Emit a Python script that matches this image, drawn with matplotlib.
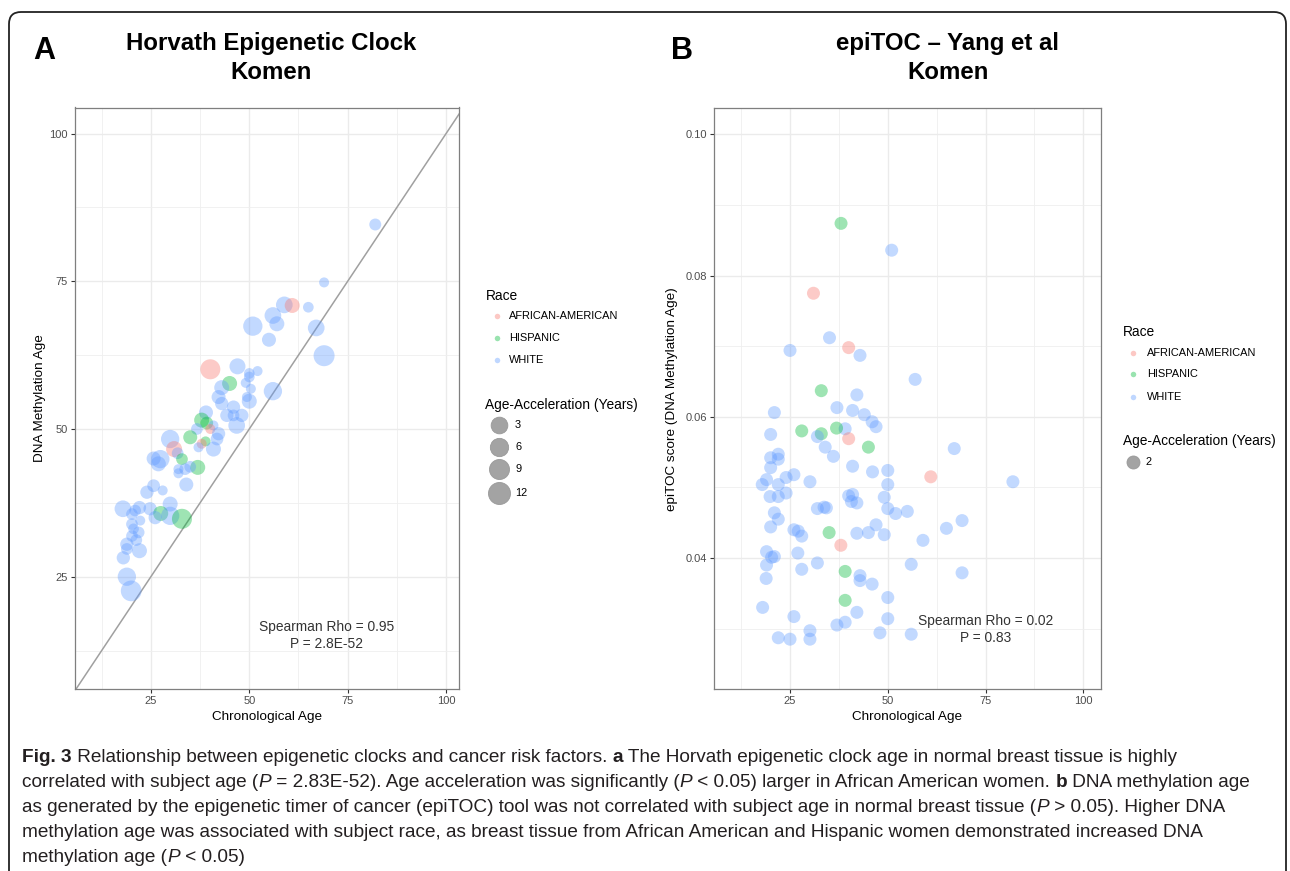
import numpy as np
import matplotlib
matplotlib.use('Agg')
import matplotlib.pyplot as plt
from matplotlib import font_manager
from matplotlib.patches import FancyBboxPatch
from matplotlib.transforms import IdentityTransform
from matplotlib.lines import Line2D

# ---------------- data ----------------
RACES = ['AFRICAN-AMERICAN', 'HISPANIC', 'WHITE']
RACE_COLORS = {'AFRICAN-AMERICAN': '#F8766D', 'HISPANIC': '#00BA38', 'WHITE': '#619CFF'}
CODE = {'AA': 'AFRICAN-AMERICAN', 'H': 'HISPANIC', 'W': 'WHITE'}

# Panel A: Horvath clock
a_age = [69.0, 58.9, 60.9, 65.0, 56.0, 57.0, 50.9, 67.0, 55.0, 69.0,
         40.1, 47.0, 52.1, 50.0, 50.0, 45.0, 49.1, 43.0, 50.4, 56.0,
         42.2, 49.4, 50.0, 43.0, 46.0, 48.1, 39.0, 44.3, 82.0,
         46.0, 46.8, 37.9, 39.2, 40.9, 36.7, 40.1, 42.2, 41.8, 35.0,
         29.9, 38.9, 37.9, 37.1, 40.9, 30.9, 31.8, 32.9, 25.7, 27.4,
         26.9, 36.9, 35.0, 33.7, 32.0, 32.0, 34.0, 25.7, 24.0, 28.0,
         17.9, 22.1, 24.8, 29.9, 27.5, 29.9, 32.9, 26.1, 20.2, 20.2,
         22.3, 21.9, 20.2, 18.9, 22.1, 18.9, 18.0, 18.9, 20.0,
         21.0, 20.6, 21.3]
a_dnam = [74.8, 71.0, 70.9, 70.6, 69.2, 67.8, 67.4, 67.1, 65.1, 62.4,
          60.1, 60.6, 59.8, 59.4, 58.8, 57.7, 57.8, 57.0, 56.8, 56.4,
          55.4, 55.4, 54.7, 54.3, 53.7, 52.3, 52.8, 52.3, 84.6,
          52.3, 50.6, 51.5, 51.0, 50.6, 50.0, 50.0, 49.2, 48.3, 48.6,
          48.3, 47.9, 47.5, 46.9, 46.6, 46.6, 45.9, 44.9, 45.0, 44.9,
          44.1, 43.5, 43.6, 43.2, 43.2, 42.5, 40.6, 40.4, 39.3, 39.6,
          36.5, 36.7, 36.5, 37.3, 35.7, 35.3, 34.8, 35.0, 35.6, 33.9,
          34.5, 32.5, 31.9, 30.5, 29.4, 29.7, 28.2, 25.0, 22.6,
          36.2, 33.1, 31.2]
a_race = ['W', 'W', 'AA', 'W', 'W', 'W', 'W', 'W', 'W', 'W',
          'AA', 'W', 'W', 'W', 'W', 'H', 'W', 'W', 'W', 'W',
          'W', 'W', 'W', 'W', 'W', 'W', 'W', 'W', 'W',
          'W', 'W', 'H', 'H', 'W', 'W', 'AA', 'W', 'W', 'H',
          'W', 'H', 'AA', 'W', 'W', 'AA', 'W', 'H', 'W', 'W',
          'W', 'H', 'W', 'W', 'W', 'W', 'W', 'W', 'W', 'W',
          'W', 'W', 'W', 'W', 'H', 'W', 'H', 'W', 'W', 'W',
          'W', 'W', 'W', 'W', 'W', 'W', 'W', 'W', 'W',
          'W', 'W', 'W']
a_accel = [0.0, 6.3, 4.4, 0.5, 6.3, 4.4, 9.6, 6.3, 3.4, 12.0,
           10.6, 5.5, 0.0, 0.5, 0.5, 4.4, 0.0, 4.4, 0.0, 8.3,
           3.4, 0.0, 4.4, 2.7, 2.7, 2.7, 3.4, 2.7, 1.5,
           1.3, 6.3, 4.4, 2.2, 0.0, 1.3, 0.0, 2.7, 2.2, 3.4,
           8.3, 0.0, 0.0, 0.0, 4.4, 5.5, 1.3, 1.3, 3.4, 8.3,
           4.4, 4.4, 1.3, 1.3, 0.0, 0.0, 3.4, 2.2, 2.7, 0.0,
           6.3, 2.7, 2.7, 4.4, 4.4, 8.3, 10.6, 2.7, 1.3, 1.3,
           0.0, 1.3, 1.3, 2.7, 4.4, 1.3, 2.7, 8.3, 11.6,
           1.3, 0.5, 1.3]
a_size_breaks = [3, 6, 9, 12]
a_legend_diam_px = [16.7, 18.3, 20.0, 22.0]

# Panel B: epiTOC
b_age = [38.05, 51.0, 31.0, 35.1, 25.0, 40.0, 42.9, 57.0, 33.0, 42.1,
         21.0, 37.0, 41.0, 44.0, 46.0, 47.0, 39.1, 28.0, 33.0, 32.0,
         36.9, 20.05, 40.0, 45.05, 34.0, 36.1, 67.0, 22.0, 20.05, 22.0,
         20.05, 41.0, 46.1, 50.0, 26.0, 24.0, 19.0, 17.9, 22.0, 30.1,
         61.0, 82.0, 50.0, 19.9, 22.0, 24.0, 40.0, 41.0, 40.7, 42.1,
         49.1, 32.0, 33.7, 34.3, 50.0, 52.0, 55.0, 21.0, 22.0, 20.05,
         26.0, 27.1, 28.0, 35.0, 42.1, 45.05, 47.0, 49.1, 65.0, 69.0,
         59.0, 38.0, 19.0, 20.3, 21.0, 27.0, 19.0, 32.0, 28.0, 18.9,
         39.1, 42.9, 42.9, 46.0, 56.0, 69.0, 39.1, 50.0, 18.0, 42.1,
         26.0, 50.0, 39.1, 37.0, 30.1, 48.0, 56.0, 22.0, 25.0, 30.1]
b_score = [0.0874, 0.0836, 0.0775, 0.0712, 0.0694, 0.0698, 0.0687, 0.0653, 0.0637, 0.0631,
           0.0606, 0.0613, 0.0609, 0.0603, 0.0593, 0.0586, 0.0583, 0.0580, 0.0576, 0.0572,
           0.0584, 0.0575, 0.0569, 0.0557, 0.0557, 0.0544, 0.0555, 0.0547, 0.0542, 0.0540,
           0.0528, 0.0530, 0.0522, 0.0524, 0.0518, 0.0514, 0.0511, 0.0504, 0.0504, 0.0508,
           0.0515, 0.0508, 0.0504, 0.0487, 0.0487, 0.0492, 0.0488, 0.0490, 0.0480, 0.0478,
           0.0486, 0.0470, 0.0472, 0.0471, 0.0470, 0.0463, 0.0466, 0.0464, 0.0455, 0.0444,
           0.0440, 0.0438, 0.0431, 0.0436, 0.0435, 0.0436, 0.0447, 0.0433, 0.0442, 0.0453,
           0.0425, 0.0418, 0.0409, 0.0401, 0.0402, 0.0407, 0.0390, 0.0393, 0.0384, 0.0371,
           0.0381, 0.0375, 0.0368, 0.0363, 0.0391, 0.0379, 0.0340, 0.0344, 0.0330, 0.0323,
           0.0317, 0.0314, 0.0309, 0.0305, 0.0297, 0.0294, 0.0292, 0.0287, 0.0285, 0.0285]
b_race = ['H', 'W', 'AA', 'W', 'W', 'AA', 'W', 'W', 'H', 'W',
          'W', 'W', 'W', 'W', 'W', 'W', 'W', 'H', 'H', 'W',
          'H', 'W', 'AA', 'H', 'W', 'W', 'W', 'W', 'W', 'W',
          'W', 'W', 'W', 'W', 'W', 'W', 'W', 'W', 'W', 'W',
          'AA', 'W', 'W', 'W', 'W', 'W', 'W', 'W', 'W', 'W',
          'W', 'W', 'W', 'W', 'W', 'W', 'W', 'W', 'W', 'W',
          'W', 'W', 'W', 'H', 'W', 'W', 'W', 'W', 'W', 'W',
          'W', 'AA', 'W', 'W', 'W', 'W', 'W', 'W', 'W', 'W',
          'H', 'W', 'W', 'W', 'W', 'W', 'H', 'W', 'W', 'W',
          'W', 'W', 'W', 'W', 'W', 'W', 'W', 'W', 'W', 'W']
b_size_breaks = [2]

x_ticks = [25, 50, 75, 100]
x_minor = [12.5, 37.5, 62.5, 87.5]
a_yticks = [25, 50, 75, 100]
a_yminor = [12.5, 37.5, 62.5, 87.5]
b_yticks = [0.04, 0.06, 0.08, 0.10]
b_ylabels = ['0.04', '0.06', '0.08', '0.10']
b_yminor = [0.03, 0.05, 0.07, 0.09]

# ---------------- fonts ----------------
names = {f.name for f in font_manager.fontManager.ttflist}
SANS = 'Liberation Sans' if 'Liberation Sans' in names else 'DejaVu Sans'
NARROW = 'Liberation Sans Narrow' if 'Liberation Sans Narrow' in names else SANS
plt.rcParams['font.family'] = [SANS, 'DejaVu Sans']

W, H = 1290, 871
fig = plt.figure(figsize=(W / 100, H / 100), dpi=100)
fig.patch.set_facecolor('white')
R = fig.canvas.get_renderer()


def fx(px):
    return px / W


def fy(py):
    return 1 - py / H


def pt(dpx):
    return dpx * 72.0 / 100.0


def diam_px(a):
    return np.sqrt(100.0 + 28.4 * np.asarray(a, dtype=float))


def text_width(txt, **kw):
    t1 = fig.text(0, 0, txt + '|', **kw)
    t2 = fig.text(0, 0, '|', **kw)
    w = t1.get_window_extent(R).width - t2.get_window_extent(R).width
    t1.remove()
    t2.remove()
    return w


# ---------------- frame ----------------
frame = FancyBboxPatch((9, -40), 1277, H - 12 + 40, boxstyle='round,pad=0,rounding_size=12',
                       transform=IdentityTransform(), facecolor='none', edgecolor='#222222',
                       linewidth=1.3, zorder=0)
fig.add_artist(frame)


def style_axes(ax):
    for sp in ax.spines.values():
        sp.set_color('#7F7F7F')
        sp.set_linewidth(0.9)
    ax.set_xticks(x_ticks)
    ax.set_xticks(x_minor, minor=True)
    ax.grid(which='major', color='#EBEBEB', linewidth=1.0)
    ax.grid(which='minor', color='#EFEFEF', linewidth=0.6)
    ax.set_axisbelow(True)
    ax.tick_params(which='major', length=3, width=0.8, color='#333333',
                   labelsize=8, labelcolor='#4D4D4D', pad=2)
    ax.tick_params(which='minor', length=0)


# ---------------- Panel A ----------------
axA = fig.add_axes([fx(74.5), fy(689), fx(459.5) - fx(74.5), fy(107.5) - fy(689)])
style_axes(axA)
axA.set_xlim(5.6, 103.4)
axA.set_ylim(6.0, 104.4)
axA.set_yticks(a_yticks)
axA.set_yticks(a_yminor, minor=True)
axA.axline((0, 0), slope=1, color='#A0A0A0', linewidth=1.1, zorder=1)
colsA = [RACE_COLORS[CODE[r]] for r in a_race]
sA = pt(diam_px(a_accel)) ** 2
axA.scatter(a_age, a_dnam, s=sA, c=colsA, alpha=0.38, edgecolors='none', zorder=2)
axA.text(69.7, 15.0, 'Spearman Rho = 0.95\nP = 2.8E-52', ha='center', va='center',
         fontsize=9.9, color='#333333', linespacing=1.3)

# ---------------- Panel B ----------------
axB = fig.add_axes([fx(714.3), fy(689.3), fx(1100.7) - fx(714.3), fy(108.3) - fy(689.3)])
style_axes(axB)
axB.set_xlim(5.64, 104.45)
axB.set_ylim(0.0214, 0.1037)
axB.set_yticks(b_yticks)
axB.set_yticklabels(b_ylabels)
axB.set_yticks(b_yminor, minor=True)
colsB = [RACE_COLORS[CODE[r]] for r in b_race]
axB.scatter(b_age, b_score, s=pt(13.0) ** 2, c=colsB, alpha=0.38, edgecolors='none', zorder=2)
axB.text(74.9, 0.0299, 'Spearman Rho = 0.02\nP = 0.83', ha='center', va='center',
         fontsize=9.9, color='#333333', linespacing=1.3)

# axis labels
fig.text(fx(267), fy(717), 'Chronological Age', ha='center', va='center', fontsize=9.7, color='black')
fig.text(fx(907.5), fy(717), 'Chronological Age', ha='center', va='center', fontsize=9.7, color='black')
fig.text(fx(40), fy(398), 'DNA Methylation Age', ha='center', va='center', rotation=90,
         fontsize=9.7, color='black')
fig.text(fx(672), fy(399), 'epiTOC score (DNA Methylation Age)', ha='center', va='center',
         rotation=90, fontsize=9.7, color='black')

# ---------------- titles ----------------
tkw = dict(family=[NARROW, 'DejaVu Sans'], fontweight='bold', color='black')
w10 = text_width('Horvath Epigenetic Clock', fontsize=10, **tkw)
tsize = 10 * 291.0 / w10
fig.text(fx(271.5), fy(50), 'Horvath Epigenetic Clock', ha='center', va='baseline', fontsize=tsize, **tkw)
fig.text(fx(271.5), fy(79), 'Komen', ha='center', va='baseline', fontsize=tsize, **tkw)
fig.text(fx(948), fy(50), 'epiTOC \u2013 Yang et al', ha='center', va='baseline', fontsize=tsize, **tkw)
fig.text(fx(948), fy(79), 'Komen', ha='center', va='baseline', fontsize=tsize, **tkw)
fig.text(fx(33), fy(59), 'A', ha='left', va='baseline', fontsize=22, fontweight='bold',
         family=[SANS, 'DejaVu Sans'])
fig.text(fx(671), fy(59), 'B', ha='left', va='baseline', fontsize=22, fontweight='bold',
         family=[SANS, 'DejaVu Sans'])


# ---------------- legends ----------------
def race_legend(x_title, y_title, x_dot, x_lab, ys):
    fig.text(fx(x_title), fy(y_title), 'Race', ha='left', va='center', fontsize=9.9, color='black')
    for r, yy in zip(RACES, ys):
        fig.add_artist(Line2D([fx(x_dot)], [fy(yy)], transform=fig.transFigure, marker='o',
                              markersize=pt(5.5), markerfacecolor=RACE_COLORS[r], markeredgecolor='none',
                              alpha=0.4, linestyle='none'))
        fig.text(fx(x_lab), fy(yy), r, ha='left', va='center', fontsize=7.9, color='black')


race_legend(486, 296, 496.7, 509, [316, 338, 360])
fig.text(fx(485), fy(405), 'Age-Acceleration (Years)', ha='left', va='center', fontsize=9.9, color='black')
for b, d, yy in zip(a_size_breaks, a_legend_diam_px, [425, 447, 469, 493]):
    fig.add_artist(Line2D([fx(499)], [fy(yy)], transform=fig.transFigure, marker='o',
                          markersize=pt(d), markerfacecolor='#A3A3A3', markeredgecolor='#999999',
                          markeredgewidth=0.6, linestyle='none'))
    fig.text(fx(515), fy(yy), str(b), ha='left', va='center', fontsize=7.9, color='black')

race_legend(1122.7, 332, 1132.7, 1146.7, [352.7, 374, 396.7])
fig.text(fx(1122.7), fy(441), 'Age-Acceleration (Years)', ha='left', va='center', fontsize=9.9, color='black')
for b, yy in zip(b_size_breaks, [461.7]):
    fig.add_artist(Line2D([fx(1132.7)], [fy(yy)], transform=fig.transFigure, marker='o',
                          markersize=pt(13), markerfacecolor='#A3A3A3', markeredgecolor='#999999',
                          markeredgewidth=0.6, linestyle='none'))
    fig.text(fx(1146), fy(yy), str(b), ha='left', va='center', fontsize=7.9, color='black')

# ---------------- caption ----------------
caption = [
    [('Fig. 3', 'b'), (' Relationship between epigenetic clocks and cancer risk factors. ', 'r'), ('a', 'b'),
     (' The Horvath epigenetic clock age in normal breast tissue is highly', 'r')],
    [('correlated with subject age (', 'r'), ('P', 'i'), (' = 2.83E-52). Age acceleration was significantly (', 'r'),
     ('P', 'i'), (' < 0.05) larger in African American women. ', 'r'), ('b', 'b'), (' DNA methylation age', 'r')],
    [('as generated by the epigenetic timer of cancer (epiTOC) tool was not correlated with subject age in normal breast tissue (', 'r'),
     ('P', 'i'), (' > 0.05). Higher DNA', 'r')],
    [('methylation age was associated with subject race, as breast tissue from African American and Hispanic women demonstrated increased DNA', 'r')],
    [('methylation age (', 'r'), ('P', 'i'), (' < 0.05)', 'r')],
]
cap_base = [762, 787, 812, 837, 862]


def seg_kw(style, size):
    kw = dict(family=[NARROW, 'DejaVu Sans'], fontsize=size, color='#231F20')
    if style == 'b':
        kw['fontweight'] = 'bold'
    if style == 'i':
        kw['fontstyle'] = 'italic'
    return kw


def line_width(segs, size):
    return sum(text_width(t, **seg_kw(s, size)) for t, s in segs)


cap_size = 10 * 1192.0 / line_width(caption[3], 10)
for segs, base in zip(caption, cap_base):
    x = 22.0
    for t, s in segs:
        kw = seg_kw(s, cap_size)
        fig.text(fx(x), fy(base), t, ha='left', va='baseline', **kw)
        x += text_width(t, **kw)

fig.savefig('out.png', dpi=100, facecolor='white')
